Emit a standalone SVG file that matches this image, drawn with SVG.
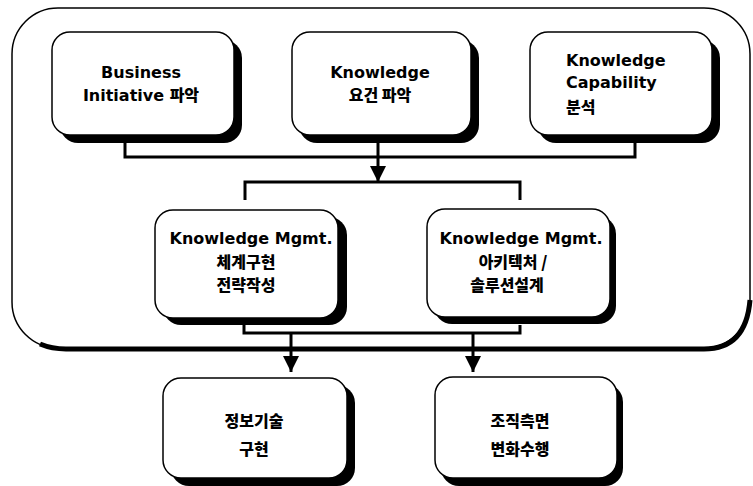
<svg xmlns="http://www.w3.org/2000/svg" width="753" height="486" viewBox="0 0 753 486">
<defs>
<style>
.sh{fill:#000}
.bx{fill:#fff;stroke:#000;stroke-width:1.5}
.t{font-family:"DejaVu Sans","Noto Sans CJK KR",sans-serif;font-weight:bold;font-size:16px;fill:#000;text-anchor:middle}
.ko{font-family:"Noto Sans CJK KR",sans-serif;font-size:16px;font-weight:900}
.tl{text-anchor:start}
.ln{fill:none;stroke:#000;stroke-width:3}
</style>
<marker id="ah" viewBox="0 0 10 10" refX="10" refY="5" markerWidth="5.5" markerHeight="5.5" markerUnits="strokeWidth" orient="auto">
<path d="M0,0 L10,5 L0,10 Z" fill="#000"/>
</marker>
</defs>
<rect width="753" height="486" fill="#fff"/>
<g id="outer">
<rect x="12" y="8" width="738" height="340" rx="46" ry="46" fill="none" stroke="#000" stroke-width="1.5"/>
<path d="M40,344 Q52,349 66,349 L704,349 Q746,349 750,300" fill="none" stroke="#000" stroke-width="5"/>
</g>
<g id="connectors">
<polyline class="ln" points="125,143 125,157 635,157 635,143"/>
<line class="ln" x1="378" y1="143" x2="378" y2="182" marker-end="url(#ah)"/>
<polyline class="ln" points="245,200 245,182 520,182 520,200"/>
<polyline class="ln" points="244,325 244,333 520,333 520,325"/>
<line class="ln" x1="291" y1="333" x2="291" y2="372" marker-end="url(#ah)"/>
<line class="ln" x1="473" y1="333" x2="473" y2="372" marker-end="url(#ah)"/>
</g>
<g id="n1">
<rect class="sh" x="60" y="40" width="182" height="103" rx="18"/>
<rect class="bx" x="52" y="32" width="182" height="103" rx="18"/>
<text class="t" x="141" y="78">Business</text>
<text class="t" x="141" y="101">Initiative <tspan class="ko">파악</tspan></text>
</g>
<g id="n2">
<rect class="sh" x="299" y="40" width="180" height="103" rx="18"/>
<rect class="bx" x="292" y="32" width="179" height="103" rx="18"/>
<text class="t" x="380" y="78">Knowledge</text>
<text class="t ko" x="380" y="101">요건 파악</text>
</g>
<g id="n3">
<rect class="sh" x="538" y="40" width="182" height="103" rx="18"/>
<rect class="bx" x="530" y="32" width="182" height="103" rx="18"/>
<text class="t tl" x="566" y="66">Knowledge</text>
<text class="t tl" x="566" y="88">Capability</text>
<text class="t tl ko" x="566" y="113">분석</text>
</g>
<g id="n4">
<rect class="sh" x="163" y="217" width="184" height="108" rx="18"/>
<rect class="bx" x="155" y="210" width="183" height="108" rx="18"/>
<text class="t" x="251" y="244">Knowledge Mgmt.</text>
<text class="t ko" x="246" y="268">체계구현</text>
<text class="t ko" x="246" y="291">전략작성</text>
</g>
<g id="n5">
<rect class="sh" x="434" y="216" width="182" height="108" rx="18"/>
<rect class="bx" x="427" y="209" width="183" height="108" rx="18"/>
<text class="t" x="521" y="244">Knowledge Mgmt.</text>
<text class="t ko" x="513" y="268">아키텍처 /</text>
<text class="t ko" x="507" y="291">솔루션설계</text>
</g>
<g id="n6">
<rect class="sh" x="171" y="385" width="184" height="101" rx="18"/>
<rect class="bx" x="163" y="378" width="184" height="100" rx="18"/>
<text class="t ko" x="254" y="427">정보기술</text>
<text class="t ko" x="254" y="455">구현</text>
</g>
<g id="n7">
<rect class="sh" x="441" y="384" width="182" height="102" rx="18"/>
<rect class="bx" x="435" y="377" width="182" height="101" rx="18"/>
<text class="t ko" x="520" y="427">조직측면</text>
<text class="t ko" x="520" y="455">변화수행</text>
</g>
</svg>
